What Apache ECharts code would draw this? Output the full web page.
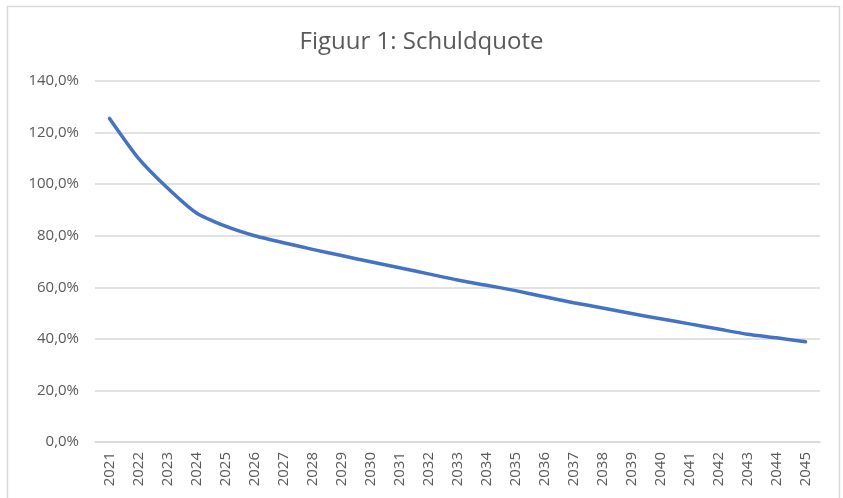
<!DOCTYPE html>
<html>
<head>
<meta charset="utf-8">
<script src="https://cdn.jsdelivr.net/npm/echarts@6/dist/echarts.min.js"></script>
<style>
html,body{margin:0;padding:0;background:#fff;}
#c{width:843px;height:498px;}
</style>
</head>
<body>
<div id="c"></div>
<script>
const titleText = "Figuur 1: Schuldquote";
const years = ["2021","2022","2023","2024","2025","2026","2027","2028","2029","2030","2031","2032","2033","2034","2035","2036","2037","2038","2039","2040","2041","2042","2043","2044","2045"];
const schuldquote = [125.5,110.0,98.5,88.8,83.7,80.0,77.3,74.7,72.3,69.9,67.6,65.2,62.8,60.8,58.7,56.3,54.0,52.0,49.8,47.8,45.8,43.8,41.8,40.4,38.9];
const yTicks = {min:0, max:140, interval:20};

const chart = echarts.init(document.getElementById('c'), null, {renderer:'canvas'});
chart.setOption({
  backgroundColor:'#ffffff',
  animation:false,
  title:{
    text:titleText,
    left:'center',
    top:25,
    textStyle:{fontFamily:'Open Sans', fontWeight:'normal', fontSize:24, color:'#595959'}
  },
  graphic:[{
    type:'rect',
    shape:{x:7.5, y:6.5, width:832, height:500},
    style:{fill:'none', stroke:'#d9d9d9', lineWidth:1.5},
    silent:true
  }],
  grid:{left:95, right:23, top:81, bottom:56},
  xAxis:{
    type:'category',
    data:years,
    boundaryGap:true,
    axisLine:{show:true, lineStyle:{color:'#d9d9d9', width:1.5}},
    axisTick:{show:false},
    axisLabel:{interval:0, rotate:90, margin:10, fontFamily:'Open Sans', fontSize:15, color:'#595959'}
  },
  yAxis:{
    type:'value',
    min:yTicks.min, max:yTicks.max, interval:yTicks.interval,
    axisLine:{show:false},
    axisTick:{show:false},
    splitLine:{lineStyle:{color:'#d9d9d9', width:1.5}},
    axisLabel:{margin:16, fontFamily:'Open Sans', fontSize:15, color:'#595959',
      formatter:v=>v.toFixed(1).replace('.',',')+'%'}
  },
  series:[{
    type:'line',
    data:schuldquote,
    showSymbol:false,
    smooth:0.2,
    lineStyle:{color:'#4472c4', width:3.5, cap:'round', join:'round'}
  }]
});
</script>
</body>
</html>
